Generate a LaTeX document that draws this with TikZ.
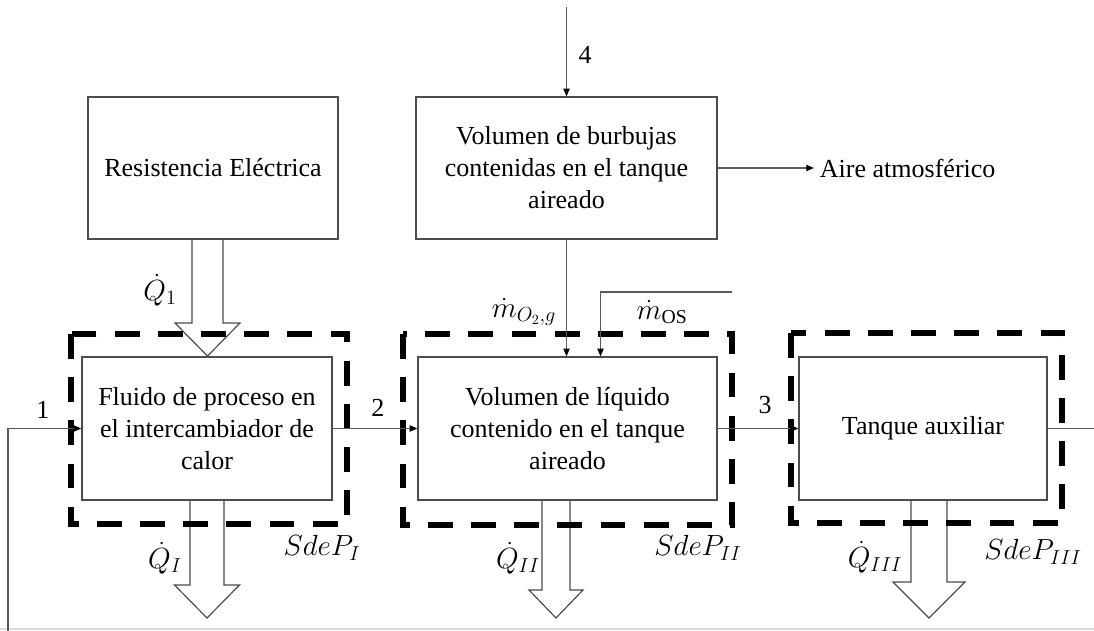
\documentclass[tikz,border=0pt]{standalone}
\usepackage{fontspec}
\setmainfont{Liberation Serif}
\usetikzlibrary{arrows.meta, positioning}

\tikzset{
  block/.style={shape=rectangle, draw=black!70, line width=0.9pt, align=center, inner sep=0pt, font=\fontsize{18.5}{22.7}\selectfont},
  sdep/.style={draw=black, line width=4.3pt, dash pattern=on 17.7pt off 13pt},
  flow/.style={draw=black!65, line width=0.85pt, -{Triangle[length=5.5pt, width=4.5pt, color=black]}},
  wire/.style={draw=black!65, line width=0.85pt},
  heat/.style={draw=black!70, line width=0.85pt, fill=white},
  lbl/.style={font=\fontsize{18.5}{22.7}\selectfont, inner sep=0pt},
  mlbl/.style={font=\fontsize{20}{24}\selectfont, inner sep=0pt},
}

% hollow heat arrow: centre x, top y, neck y, tip y, half shaft, half head
\newcommand{\heatarrow}[6]{%
  \draw[heat] (#1-#5,#2) -- (#1-#5,#3) -- (#1-#6,#3) -- (#1,#4) -- (#1+#6,#3) -- (#1+#5,#3) -- (#1+#5,#2);
}

\begin{document}
\begin{tikzpicture}[x=0.025cm, y=-0.025cm]
  \useasboundingbox (0,0) rectangle (1094,631);
  \draw[black!15, line width=0.8pt] (0,629) -- (1094,629);

  % Heat flows
  \heatarrow{207.5}{240}{323}{356}{15.5}{32.5}
  \heatarrow{207}{500}{585}{618}{17}{32.5}
  \heatarrow{556}{500}{590}{618}{14}{27}
  \heatarrow{929}{501}{582}{618}{18}{36}

  % Blocks
  \node[block, minimum width=250*0.025cm, minimum height=142*0.025cm] (res) at (213,168) {Resistencia Eléctrica};
  \node[block, minimum width=301*0.025cm, minimum height=142*0.025cm] (burb) at (566.5,168) {Volumen de burbujas\\contenidas en el tanque\\aireado};
  \node[block, minimum width=250*0.025cm, minimum height=143*0.025cm] (fluido) at (207,428.5) {Fluido de proceso en\\el intercambiador de\\calor};
  \node[block, minimum width=299*0.025cm, minimum height=143*0.025cm] (liq) at (567.5,428.5) {Volumen de líquido\\contenido en el tanque\\aireado};
  \node[block, minimum width=248*0.025cm, minimum height=143*0.025cm] (tanque) at (923,428.5) {Tanque auxiliar};
  \node[lbl, anchor=west, inner sep=4pt] (aire) at (814,168) {Aire atmosférico};

  % Systems of process
  \draw[sdep] (71,334) rectangle (347,524);
  \draw[sdep] (403,334) rectangle (732,525);
  \draw[sdep] (791,333) rectangle (1062,523);

  % Streams
  \coordinate (rec) at (8,631);
  \coordinate (in4) at (566.5,7);
  \coordinate (os) at (732,292);
  \coordinate (out) at (1094,428.5);
  \draw[flow] (rec) |- (fluido.west);
  \draw[flow] (fluido.east) -- (liq.west);
  \draw[flow] (liq.east) -- (tanque.west);
  \draw[wire] (tanque.east) -- (out);
  \draw[flow] (in4) -- (burb.north);
  \draw[flow] (burb.east) -- (aire.west);
  \draw[flow] (burb.south) -- (burb.south |- liq.north);
  \draw[flow] (os) -| ([xshift=34*0.025cm]burb.south |- liq.north);

  % Labels
  \node[lbl] (n1) at (43,410) {1};
  \node[lbl] (n2) at (378,408) {2};
  \node[lbl] (n3) at (765,405) {3};
  \node[lbl] (n4) at (585,55) {4};
  \node[mlbl] (q1) at (160,290) {$\dot{Q}_1$};
  \node[mlbl] (qI) at (165,558) {$\dot{Q}_{I}$};
  \node[mlbl] (qII) at (518,558) {$\dot{Q}_{II}$};
  \node[mlbl] (qIII) at (875,557) {$\dot{Q}_{III}$};
  \node[mlbl] (sI) at (322,548) {$SdeP_{I}$};
  \node[mlbl] (sII) at (698,548) {$SdeP_{II}$};
  \node[mlbl] (sIII) at (1033,552) {$SdeP_{III}$};
  \node[mlbl] (mo2) at (524,312) {$\dot{m}_{O_2,g}$};
  \node[mlbl] (mos) at (662,312) {$\dot{m}_{\mathrm{OS}}$};
\end{tikzpicture}
\end{document}
